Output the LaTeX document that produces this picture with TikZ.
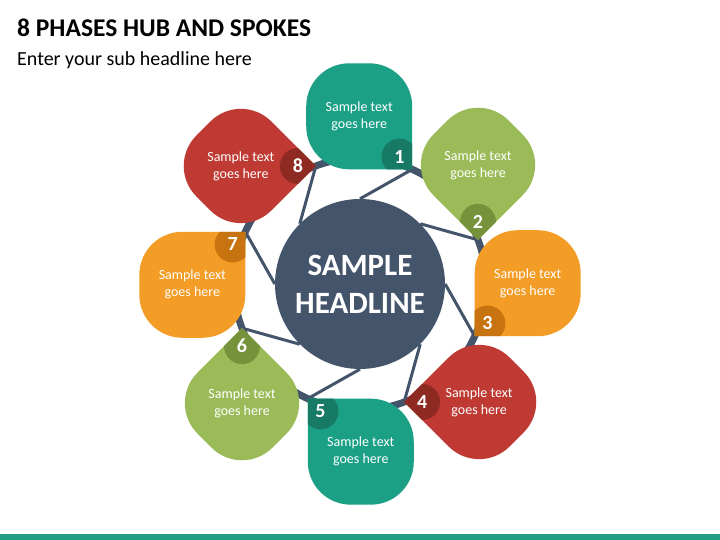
\documentclass[tikz,border=0pt]{standalone}
\usepackage{fontspec}
\setmainfont{Carlito}
\definecolor{hubc}{HTML}{44546A}
\definecolor{cTeal}{HTML}{1BA086}
\definecolor{cTealD}{HTML}{177A64}
\definecolor{cGreen}{HTML}{9BBB59}
\definecolor{cGreenD}{HTML}{76933C}
\definecolor{cOrange}{HTML}{F39C26}
\definecolor{cOrangeD}{HTML}{C77410}
\definecolor{cRed}{HTML}{BE3A32}
\definecolor{cRedD}{HTML}{8E2A22}
\definecolor{cBar}{HTML}{1F9E82}
\begin{document}
\begin{tikzpicture}[x=1pt,y=1pt,
  ring/.style={circle, draw=hubc, line width=7pt, minimum size=252pt, inner sep=0pt},
  spoke/.style={draw=hubc, line width=3pt},
  hubstyle/.style={circle, fill=hubc, minimum size=170pt, inner sep=0pt, text=white, font=\bfseries\fontsize{31}{38}\selectfont, align=center},
  ptext/.style={text=white, align=center, font=\fontsize{14}{17}\selectfont},
  badge/.style={circle, minimum size=36pt, inner sep=0pt, text=white, font=\bfseries\fontsize{20}{20}\selectfont},
  titlestyle/.style={anchor=base west, inner sep=0pt}]
\useasboundingbox (0,0) rectangle (720,540);
\fill[cBar] (0,0) rectangle (720,6);
\node[titlestyle, font=\bfseries\fontsize{25.5}{30}\selectfont] (title) at (17,503) {8 PHASES HUB AND SPOKES};
\node[titlestyle, font=\fontsize{20}{24}\selectfont] (sub) at (17,474) {Enter your sub headline here};
\node[ring] (rim) at (360,256) {};
\node[hubstyle] (hub) at (360,256) {SAMPLE\\HEADLINE};
\foreach \k in {1,...,8}{
  \pgfmathsetmacro\va{65.5-45*(\k-1)}
  \coordinate (v\k) at ([shift={(\va:126)}]hub.center);
}
\foreach \k in {1,...,8}{
  \pgfmathtruncatemacro\ang{90-45*(\k-1)}
  \draw[spoke] (v\k) -- (hub.\ang);
}
\foreach \k/\col/\dcol in {1/cTeal/cTealD,2/cGreen/cGreenD,3/cOrange/cOrangeD,4/cRed/cRedD,5/cTeal/cTealD,6/cGreen/cGreenD,7/cOrange/cOrangeD,8/cRed/cRedD}{
  \pgfmathsetmacro\dir{135-45*(\k-1)}
  \pgfmathsetmacro\rot{-45*(\k-1)}
  \coordinate (c\k) at ([shift={(\dir:75)}]v\k);
  \begin{scope}[shift={(c\k)}, rotate=\rot]
    \fill[\col] (53,-53) -- (53,10) arc[start angle=0,end angle=90,radius=43] -- (-10,53) arc[start angle=90,end angle=180,radius=43] -- (-53,-10) arc[start angle=180,end angle=270,radius=43] -- cycle;
    \clip (53,-53) -- (53,10) arc[start angle=0,end angle=90,radius=43] -- (-10,53) arc[start angle=90,end angle=180,radius=43] -- (-53,-10) arc[start angle=180,end angle=270,radius=43] -- cycle;
    \node[badge, fill=\dcol] (b\k) at (40.3,-40.3) {\k};
  \end{scope}
  \node[ptext] (p\k) at (c\k) {Sample text\\goes here};
}
\end{tikzpicture}
\end{document}
